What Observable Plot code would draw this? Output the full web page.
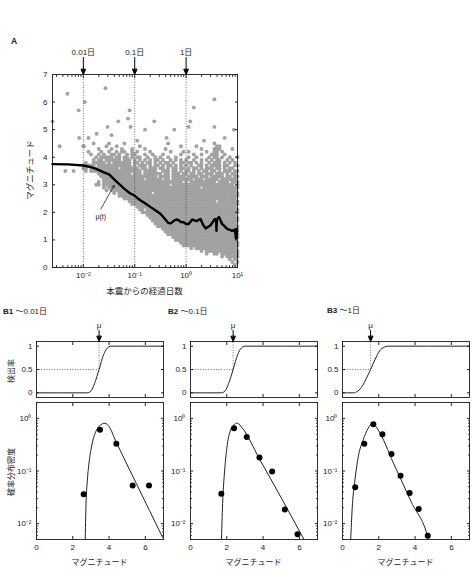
<!DOCTYPE html>
<html>
<head>
<meta charset="utf-8">
<script src="https://cdn.jsdelivr.net/npm/d3@7"></script>
<script src="https://cdn.jsdelivr.net/npm/@observablehq/plot@0.6"></script>
<style>
  body { margin: 0; width: 472px; height: 576px; overflow: hidden; background: #fff; }
  #fig { position: relative; width: 472px; height: 576px; overflow: hidden;
         font-family: "Liberation Sans", "Noto Sans CJK JP", sans-serif; color: #222; }
  #fig svg { position: absolute; }
  .lbl { position: absolute; white-space: nowrap; line-height: 1; }
  .c { transform: translate(-50%, -50%); }
  .r { transform: translate(-50%, -50%) rotate(-90deg); }
</style>
</head>
<body>
<div id="fig"></div>
<script>
// ---------- Panel A: aftershock magnitudes vs. elapsed time ----------
const markerDays = [0.01, 0.1, 1];
const markerLabels = ["0.01日", "0.1日", "1日"];
const magTicksA = [0, 1, 2, 3, 4, 5, 6, 7];
const dayTicksA = [0.01, 0.1, 1, 10];
const dayTickLabelsA = ["10⁻²", "10⁻¹", "10⁰", "10¹"];

// isolated events: [log10(days), magnitude]
const sparseEvents = [
  [-2.6, 5.3], [-2.46, 4.4], [-2.35, 3.5], [-2.31, 6.3], [-2.19, 3.5], [-2.09, 5.7],
  [-2.08, 4.7], [-1.97, 6.0], [-1.99, 4.4], [-1.9, 4.7], [-1.74, 4.85], [-1.57, 6.5],
  [-1.53, 5.1], [-1.45, 4.8], [-1.32, 5.3], [-1.13, 5.4], [-1.1, 5.7], [-1.08, 5.1],
  [-0.95, 4.6], [-0.8, 5.0], [-0.62, 5.3], [-0.38, 4.7], [-0.23, 5.0], [0.05, 5.1],
  [0.08, 5.3], [0.15, 5.8], [0.35, 4.6], [0.55, 6.1], [0.55, 5.1], [0.75, 4.7], [0.93, 5.0]
];

// dense catalogue: one row per 0.1 magnitude (4.5 down to 0.1),
// one column per 0.05 in log10(days) starting at 10^-2; "#" = event
const denseTopMag = 4.5;
const denseLogStart = -2;
const denseLogStep = 0.05;
const denseRows = [
  "....#..... #.....#... .......... ...#...... .......... .#........ .",
  "#........# ...#...... ..#....... ........#. ....#..... ..##...... .",
  "......#... .#...#...# ....#..... ..#....... ......#... .###....#. .",
  "..#....#.. #..#.##..# .#....#... ....#....# .#......#. .##.#..... .",
  "...#..#.#. .##.#..#.# #...#..#.. .#......#. ...#..#... ###..#.... .",
  ".....#.### ##.##.##.# .##..#..#. #..#..#... .#..#....# .##.#..#.. #",
  "....#.##.# #####.###. #.#.#.#.## .#..#.#.#. #..#..#.#. #.##..#.#. .",
  ".#..#####. #.#######. ##.#.##.#. #.##.#..## .##.#.#..# .###.#.#.# .",
  "#####.#### #########. #.###.#.## .#.##.#.#. #.#..##.#. ####.##..# #",
  "##.####### ####.##### ##.##.###. ##.#.##.## .#.##.#.## #.##.#.##. .",
  ".#.####### ########## ###.#####. .###.##.#. ##.#.#.##. ##.#.###.# #",
  "......#### #########. ###.###### #.##.###.# #.##.##.## #.###.#.## .",
  ".......### ########## #########. ####.##### .####.###. #####.##.# #",
  "........## ########## ####.##### #.##.##### ###.###.## ###.###### .",
  "......#.## ########## ########## #########. #.######## ##.####.## #",
  ".....##.## ########## ########## ####.##### ########## #########. #",
  "........#. ########## ########## ########## ######.### ########## #",
  ".........# .######### ########## ########## ########## ########## .",
  ".......... ..#.###### #######.## ########## ########## ########## #",
  ".......... ....###### ########## ########## ########## ########## #",
  ".......... ......#### ########## ########## ########## ########## .",
  ".......... ........## ########## ########## ########## ##.####### #",
  ".......... .........# ########## ########## ########## ########## #",
  ".......... .......... .######### ########## ########## ########## .",
  ".......... .......... ..##.##### ########## ########## ########## #",
  ".......... .......... ...####### ########## ########## ########## #",
  ".......... .......... .....##### ########## ########## ########## .",
  ".......... .......... ......#### ########## ########## ########## #",
  ".......... .......... .......### ########## ########## ########## #",
  ".......... .......... ........## ########## ########## ########## .",
  ".......... .......... .........# ########## ########## ########## #",
  ".......... .......... .......... .######### ########## ########## #",
  ".......... .......... .......... ..######## ########## ########## .",
  ".......... .......... .......... ...####### ########## ########## #",
  ".......... .......... .......... .....##### ########## ########## #",
  ".......... .......... .......... ......#### ########## ########## .",
  ".......... .......... .......... ........## ########## ########## #",
  ".......... .......... .......... .........# ########## ########## #",
  ".......... .......... .......... .......... ..#.###### ########## .",
  ".......... .......... .......... .......... ......#.## ########## #",
  ".......... .......... .......... .......... ........#. .##.###### #",
  ".......... .......... .......... .......... .......... ....#.#### #",
  ".......... .......... .......... .......... .......... .......#.# .",
  ".......... .......... .......... .......... .......... ........#. #",
  ".......... .......... .......... .......... .......... .........# ."
];

// running mean magnitude μ(t): log10(days) and magnitude
const muLogDays = [-2.6, -2.3, -2.0, -1.85, -1.74, -1.6, -1.5, -1.4, -1.3, -1.2, -1.1, -1.0,
  -0.9, -0.8, -0.69, -0.6, -0.5, -0.42, -0.35, -0.3, -0.22, -0.17, -0.1, -0.05, 0.0, 0.05,
  0.12, 0.2, 0.28, 0.33, 0.38, 0.47, 0.56, 0.585, 0.59, 0.6, 0.64, 0.7, 0.8, 0.9, 0.95,
  0.97, 0.98, 1.0];
const muMags = [3.75, 3.74, 3.70, 3.64, 3.57, 3.45, 3.38, 3.2, 3.02, 2.85, 2.7, 2.6,
  2.45, 2.33, 2.19, 2.08, 1.95, 1.78, 1.62, 1.6, 1.72, 1.74, 1.65, 1.64, 1.58, 1.58,
  1.74, 1.68, 1.76, 1.55, 1.42, 1.52, 1.76, 1.7, 1.33, 1.75, 1.83, 1.58, 1.4, 1.33, 1.38,
  1.05, 1.4, 1.3];

// ---------- Panels B1–B3: detection rate and magnitude distribution ----------
const panelNames = ["B1", "B2", "B3"];
const panelSpans = ["〜0.01日", "〜0.1日", "〜1日"];
const muB = [3.45, 2.35, 1.55];
const rateTicks = [0, 0.5, 1];
const magTicksB = [0, 2, 4, 6];
const densityTicks = [1, 0.1, 0.01];
const densityTickLabels = ["10⁰", "10⁻¹", "10⁻²"];

// detection rate curves: [magnitude, rate]
const detectB = [
  [[0, 0], [2.8, 0], [3.0, 0.04], [3.2, 0.2], [3.45, 0.5], [3.7, 0.82], [3.9, 0.96], [4.1, 1], [7, 1]],
  [[0, 0], [1.7, 0], [1.9, 0.04], [2.1, 0.2], [2.35, 0.5], [2.6, 0.82], [2.8, 0.96], [3.0, 1], [7, 1]],
  [[0, 0], [0.6, 0], [0.85, 0.04], [1.1, 0.15], [1.3, 0.3], [1.55, 0.5], [1.8, 0.72], [2.05, 0.9], [2.3, 0.98], [2.5, 1], [7, 1]]
];
// fitted probability density: [magnitude, density]
const pdfB = [
  [[2.68, 0.004], [2.73, 0.024], [2.80, 0.065], [2.91, 0.155], [3.10, 0.37], [3.31, 0.60], [3.59, 0.77], [3.72, 0.81], [3.96, 0.73], [4.4, 0.35], [5.5, 0.058], [6.95, 0.0055]],
  [[1.70, 0.004], [1.77, 0.024], [1.88, 0.10], [2.03, 0.32], [2.21, 0.60], [2.39, 0.75], [2.58, 0.81], [2.86, 0.65], [3.8, 0.17], [5.0, 0.031], [6.3, 0.0047]],
  [[0.44, 0.004], [0.55, 0.024], [0.68, 0.065], [0.86, 0.18], [1.14, 0.39], [1.42, 0.65], [1.66, 0.81], [1.97, 0.60], [2.8, 0.143], [3.8, 0.0254], [4.72, 0.0052], [4.8, 0.004]]
];
// observed frequencies: [bin magnitude, density]
const binsB = [
  [[2.6, 0.036], [3.5, 0.61], [4.4, 0.33], [5.3, 0.053], [6.2, 0.053]],
  [[1.7, 0.037], [2.4, 0.65], [3.1, 0.44], [3.8, 0.18], [4.5, 0.098], [5.2, 0.0186], [5.9, 0.0063]],
  [[0.7, 0.049], [1.2, 0.33], [1.7, 0.77], [2.2, 0.50], [2.7, 0.21], [3.2, 0.081], [3.7, 0.038], [4.2, 0.019], [4.7, 0.0059]]
];

// ---------- helpers ----------
const FONT = '"Liberation Sans", "Noto Sans CJK JP", sans-serif';
const fig = document.getElementById("fig");
const style = {fontFamily: FONT, fontSize: "8px", color: "#222", background: "transparent", overflow: "visible"};

function place(svg, left, top) {
  svg.style.left = left + "px";
  svg.style.top = top + "px";
  fig.appendChild(svg);
}
function label(html, x, y, size, cls) {
  const d = document.createElement("div");
  d.className = "lbl" + (cls ? " " + cls : "");
  d.style.left = x + "px";
  d.style.top = y + "px";
  d.style.fontSize = size + "px";
  d.innerHTML = html;
  fig.appendChild(d);
}
// filled down-pointing arrow used for the time and μ markers
const markerArrow = {
  draw(ctx, l) {
    ctx.moveTo(0, 0);
    ctx.lineTo(0, -l + 4);
    ctx.moveTo(-2.2, -l + 5);
    ctx.lineTo(0, -l);
    ctx.lineTo(2.2, -l + 5);
    ctx.closePath();
  }
};
const blank = () => "";
const minorLog = (lo, hi) => {
  const out = [];
  for (let k = -4; k <= 2; k++) for (let j = 2; j <= 9; j++) {
    const v = j * 10 ** k;
    if (v >= lo && v <= hi) out.push(v);
  }
  return out;
};

// ---------- build panel A ----------
const events = sparseEvents.map(([lt, m]) => ({t: 10 ** lt, m}));
denseRows.forEach((row, r) => {
  const cells = row.split(" ").map((g, gi, arr) => gi < arr.length - 1 ? (g + "..........").slice(0, 10) : g).join("");
  [...cells].forEach((ch, c) => {
    if (ch === "#") events.push({t: 10 ** (denseLogStart + c * denseLogStep), m: Math.round((denseTopMag - r * 0.1) * 10) / 10});
  });
});
const muLine = muLogDays.map((lt, i) => ({t: 10 ** lt, m: muMags[i]}));
const xMinA = 10 ** -2.6;

const plotA = Plot.plot({
  width: 262, height: 270,
  marginLeft: 52, marginRight: 25, marginTop: 34, marginBottom: 43,
  style,
  x: {type: "log", domain: [xMinA, 10], label: null},
  y: {domain: [0, 7], label: null},
  marks: [
    Plot.dot(events, {x: "t", y: "m", r: 1.95, fill: "#a2a2a2", stroke: "none"}),
    Plot.ruleX(markerDays, {stroke: "#333", strokeWidth: 0.7, strokeDasharray: "1,1.6"}),
    Plot.line(muLine, {x: "t", y: "m", stroke: "#000", strokeWidth: 2.4, strokeLinejoin: "round"}),
    Plot.arrow([0], {x1: 10 ** -1.66, y1: 2.12, x2: 10 ** -1.40, y2: 2.98, stroke: "#222", strokeWidth: 0.8, headLength: 5, insetEnd: 0}),
    Plot.text(["μ(t)"], {x: 10 ** -1.66, y: 1.85, text: d => d, fontSize: 7, fill: "#222"}),
    Plot.vector(markerDays, {x: d => d, y: 7, length: 17, rotate: 180, anchor: "end", shape: markerArrow, stroke: "#000", fill: "#000", strokeWidth: 1}),
    Plot.text(markerDays, {x: d => d, y: 7, dy: -22, text: (d, i) => markerLabels[i], fontSize: 8, fill: "#222"}),
    Plot.frame({stroke: "#000", strokeWidth: 0.8}),
    Plot.axisY({ticks: magTicksA, tickSize: -3, tickPadding: 8, tickFormat: d => String(d), label: null}),
    Plot.axisY({anchor: "right", ticks: magTicksA, tickSize: -3, tickFormat: blank, label: null}),
    Plot.axisX({ticks: dayTicksA, tickSize: -3, tickPadding: 8, tickFormat: (d, i) => dayTickLabelsA[dayTicksA.indexOf(d)], label: null}),
    Plot.axisX({ticks: minorLog(xMinA, 10), tickSize: -1.8, tickFormat: blank, label: null}),
    Plot.axisX({anchor: "top", ticks: dayTicksA, tickSize: -3, tickFormat: blank, label: null}),
    Plot.axisX({anchor: "top", ticks: minorLog(xMinA, 10), tickSize: -1.8, tickFormat: blank, label: null})
  ]
});
place(plotA, 0, 40);

label("<b>A</b>", 11, 37, 8.5);
label("本震からの経過日数", 144.5, 291, 8.5, "c");
label("マグニチュード", 30, 170, 8.5, "r");

// ---------- build panels B ----------
const lefts = [0, 154, 306];
panelNames.forEach((name, i) => {
  const mu = muB[i];
  const top = Plot.plot({
    width: 166, height: 82,
    marginLeft: 36, marginRight: 3, marginTop: 23, marginBottom: 3,
    style,
    x: {domain: [0, 7], label: null},
    y: {domain: [-0.1, 1.1], label: null},
    marks: [
      Plot.ruleY([0.5], {x1: 0, x2: mu, stroke: "#333", strokeWidth: 0.7, strokeDasharray: "1,1.6"}),
      Plot.ruleX([mu], {y1: 0.5, y2: 1.1, stroke: "#333", strokeWidth: 0.7, strokeDasharray: "1,1.6"}),
      Plot.line(detectB[i], {x: "0", y: "1", curve: "monotone-x", stroke: "#222", strokeWidth: 1}),
      Plot.vector([mu], {x: d => d, y: 1.1, length: 11, rotate: 180, anchor: "end", shape: markerArrow, stroke: "#000", fill: "#000", strokeWidth: 1}),
      Plot.text([mu], {x: d => d, y: 1.1, dy: -16, text: () => "μ", fontSize: 8, fill: "#222"}),
      Plot.frame({stroke: "#000", strokeWidth: 0.8}),
      Plot.axisY({ticks: rateTicks, tickSize: -3, tickPadding: 7, tickFormat: d => String(d), label: null}),
      Plot.axisY({anchor: "right", ticks: rateTicks, tickSize: -3, tickFormat: blank, label: null}),
      Plot.axisX({ticks: magTicksB, tickSize: -3, tickFormat: blank, label: null}),
      Plot.axisX({anchor: "top", ticks: magTicksB, tickSize: -3, tickFormat: blank, label: null})
    ]
  });
  place(top, lefts[i], 318);

  const bottom = Plot.plot({
    width: 166, height: 176,
    marginLeft: 36, marginRight: 3, marginTop: 4, marginBottom: 35,
    style,
    x: {domain: [0, 7], label: null},
    y: {type: "log", domain: [0.005, 2], label: null},
    marks: [
      Plot.line(pdfB[i], {x: "0", y: "1", curve: "monotone-x", stroke: "#222", strokeWidth: 1, clip: true}),
      Plot.dot(binsB[i], {x: "0", y: "1", r: 3, fill: "#000", stroke: "none"}),
      Plot.frame({stroke: "#000", strokeWidth: 0.8}),
      Plot.axisY({ticks: densityTicks, tickSize: -3, tickPadding: 8, tickFormat: d => densityTickLabels[densityTicks.indexOf(d)], label: null}),
      Plot.axisY({ticks: minorLog(0.005, 2), tickSize: -1.8, tickFormat: blank, label: null}),
      Plot.axisY({anchor: "right", ticks: densityTicks, tickSize: -3, tickFormat: blank, label: null}),
      Plot.axisY({anchor: "right", ticks: minorLog(0.005, 2), tickSize: -1.8, tickFormat: blank, label: null}),
      Plot.axisX({ticks: magTicksB, tickSize: -3, tickPadding: 8, tickFormat: d => String(d), label: null}),
      Plot.axisX({anchor: "top", ticks: magTicksB, tickSize: -3, tickFormat: blank, label: null})
    ]
  });
  place(bottom, lefts[i], 398);

  const cx = lefts[i] + 36 + 63.5;
  label("マグニチュード", cx, 563, 8, "c");
});

label("<b>B1</b> " + panelSpans[0], 3, 308, 8);
label("<b>B2</b> " + panelSpans[1], 168, 308, 8);
label("<b>B3</b> " + panelSpans[2], 327, 307, 8);
label("検出率", 12, 371, 8, "r");
label("確率分布密度", 12, 472, 8, "r");
</script>
</body>
</html>
